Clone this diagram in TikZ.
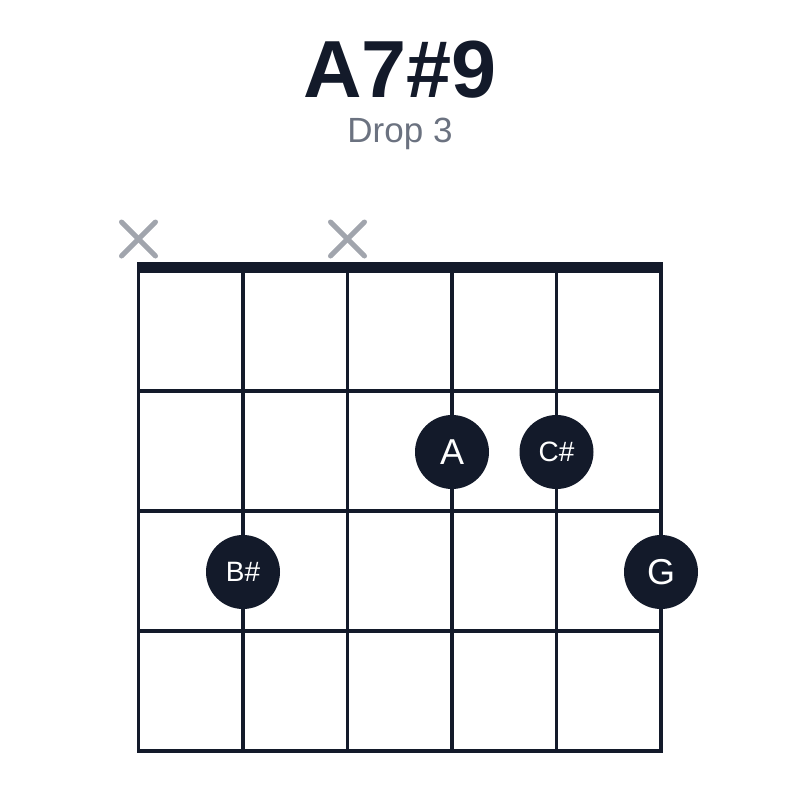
\documentclass[tikz,border=0pt]{standalone}
\usepackage{fontspec}
\setmainfont{Liberation Sans}
\definecolor{ink}{HTML}{131A2A}
\definecolor{subgray}{HTML}{6B7280}
\definecolor{xgray}{HTML}{A1A5AD}
\tikzset{
  gridline/.style={draw=ink, line width=3.5pt},
  nutbar/.style={draw=ink, line width=11pt},
  mutemark/.style={draw=xgray, line width=5pt, line cap=round},
  fingerdot/.style={circle, fill=ink, text=white, minimum size=74pt, inner sep=0pt},
  bignote/.style={font=\fontsize{36}{36}\selectfont},
  smallnote/.style={font=\fontsize{28}{28}\selectfont},
}
\begin{document}
\begin{tikzpicture}[x=1pt,y=-1pt]
\useasboundingbox (0,0) rectangle (800,800);
% title
\node (title) at (400,70) {\fontsize{81}{81}\selectfont\bfseries\color{ink}A7\#9};
\node (subtitle) at (400,134) {\fontsize{35}{35}\selectfont\color{subgray}Drop 3};
% strings
\foreach \i/\x in {1/138.5,2/243,3/347.5,4/452,5/556.5,6/661}{
  \coordinate (s\i top) at (\x,268);
  \coordinate (s\i bot) at (\x,752.5);
  \draw[gridline] (s\i top) -- (s\i bot);
}
% frets
\foreach \j/\y in {1/391,2/511,3/631,4/751}{
  \coordinate (f\j l) at (137,\y);
  \coordinate (f\j r) at (662.5,\y);
  \draw[gridline] (f\j l) -- (f\j r);
}
% nut
\coordinate (nutl) at (137,267.5);
\coordinate (nutr) at (662.5,267.5);
\draw[nutbar] (nutl) -- (nutr);
% mute marks
\foreach \n/\x in {m1/138.5,m3/347.5}{
  \coordinate (\n) at (\x,239);
  \draw[mutemark] ([shift={(-17,-17)}]\n) -- ([shift={(17,17)}]\n);
  \draw[mutemark] ([shift={(-17,17)}]\n) -- ([shift={(17,-17)}]\n);
}
% finger dots
\node[fingerdot, bignote] (dA) at (452,452) {A};
\node[fingerdot, smallnote] (dC) at (556.5,452) {C\#};
\node[fingerdot, smallnote] (dB) at (243,572) {B\#};
\node[fingerdot, bignote] (dG) at (661,572) {G};
\end{tikzpicture}
\end{document}
